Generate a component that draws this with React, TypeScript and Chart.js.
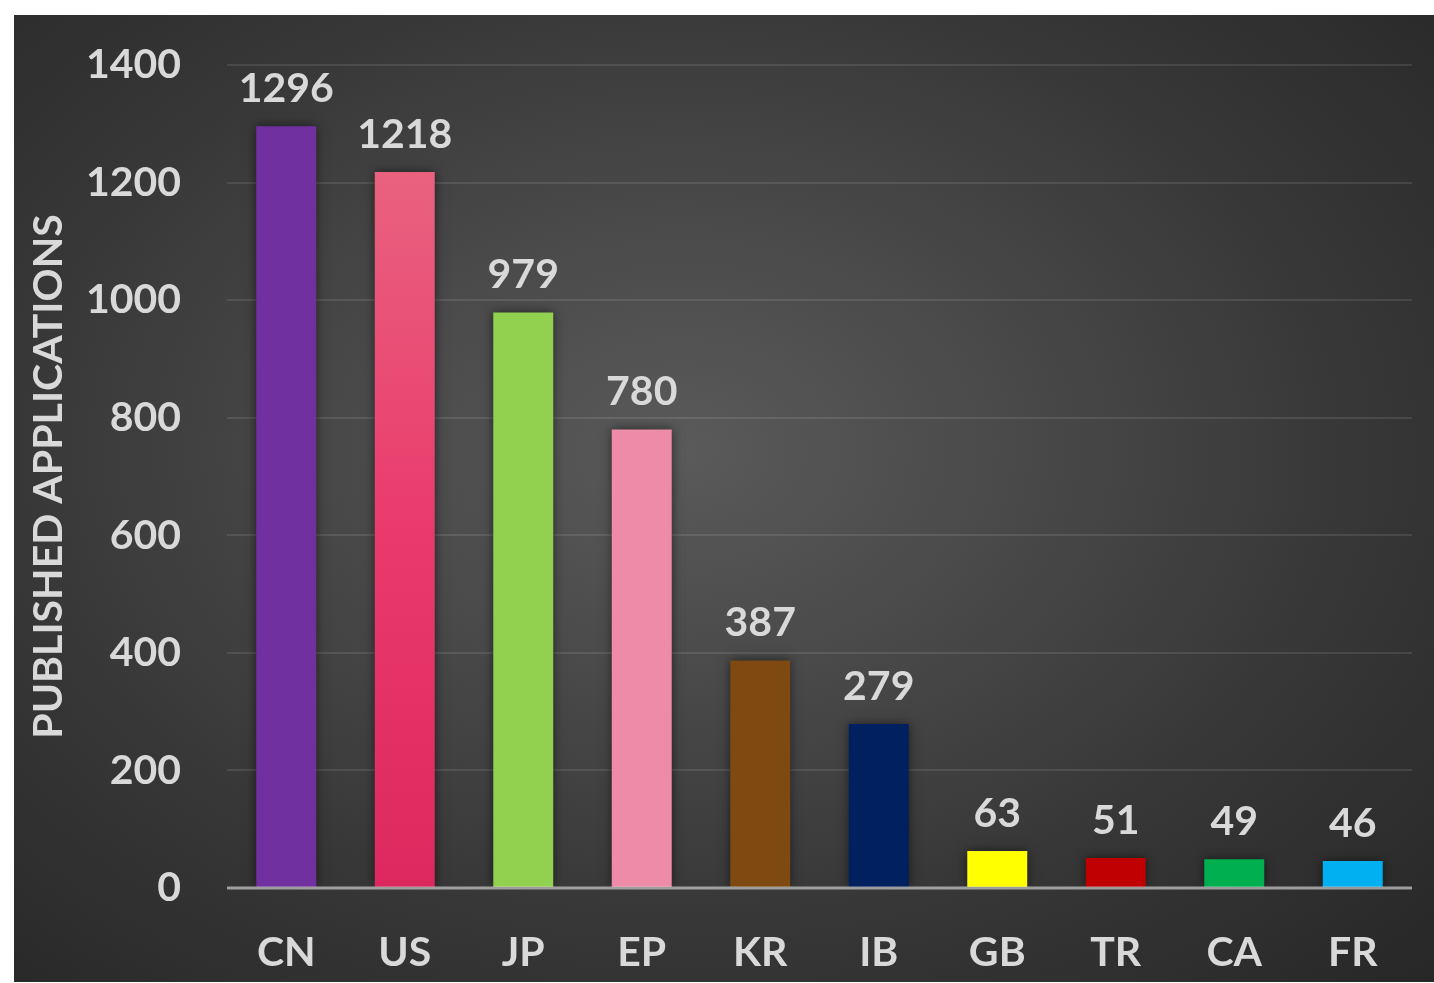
import React, { useEffect, useRef } from "react";
import { Chart, registerables } from "chart.js";

Chart.register(...registerables);

const categories = ["CN", "US", "JP", "EP", "KR", "IB", "GB", "TR", "CA", "FR"];
const values = [1296, 1218, 979, 780, 387, 279, 63, 51, 49, 46];
const barColors = ["#7030A0", "US_GRADIENT", "#92D050", "#EE8BA9", "#7F4912", "#002060", "#FFFF00", "#C00000", "#00B050", "#00B0F0"];
const yTicks = [0, 200, 400, 600, 800, 1000, 1200, 1400];
const yTitle = "PUBLISHED APPLICATIONS";

const FONT = "Lato";
const TEXT = "#D9D9D9";

const barDeco = {
  id: "barDeco",
  beforeDatasetsDraw(chart: any) {
    const ctx = chart.ctx;
    ctx.save();
    ctx.shadowColor = "rgba(0,0,0,0.55)";
    ctx.shadowBlur = 10;
    ctx.shadowOffsetX = 0;
    ctx.shadowOffsetY = 0;
  },
  afterDatasetsDraw(chart: any) {
    const ctx = chart.ctx;
    ctx.restore();
    const area = chart.chartArea;
    const y0 = chart.scales.y.getPixelForValue(0);
    ctx.save();
    ctx.strokeStyle = "rgba(205,205,205,0.7)";
    ctx.lineWidth = 3;
    ctx.beginPath();
    ctx.moveTo(area.left, y0);
    ctx.lineTo(area.right, y0);
    ctx.stroke();
    const meta = chart.getDatasetMeta(0);
    ctx.fillStyle = TEXT;
    ctx.font = `bold 41px ${FONT}`;
    ctx.textAlign = "center";
    ctx.textBaseline = "alphabetic";
    meta.data.forEach((bar: any, i: number) => {
      ctx.fillText(String(values[i]), bar.x, bar.y - 24);
    });
    ctx.restore();
  },
};

export default function App() {
  const ref = useRef<HTMLCanvasElement | null>(null);
  useEffect(() => {
    if (!ref.current) return;
    const chart = new Chart(ref.current, {
      type: "bar",
      data: {
        labels: categories,
        datasets: [
          {
            data: values,
            backgroundColor: (c: any) => {
              const col = barColors[c.dataIndex];
              if (col !== "US_GRADIENT") return col;
              const ch = c.chart;
              const area = ch.chartArea;
              if (!area) return "#E44070";
              const g = ch.ctx.createLinearGradient(0, ch.scales.y.getPixelForValue(values[1]), 0, area.bottom);
              g.addColorStop(0, "#E9627F");
              g.addColorStop(0.5, "#EA3A6C");
              g.addColorStop(1, "#DC285E");
              return g;
            },
            borderWidth: 0,
            barPercentage: 0.506,
            categoryPercentage: 1,
          },
        ],
      },
      options: {
        responsive: false,
        animation: false,
        layout: { padding: { left: 0, right: 22, top: 50, bottom: 0 } },
        plugins: { legend: { display: false }, tooltip: { enabled: false } },
        scales: {
          x: {
            grid: { display: false, drawTicks: false },
            border: { display: false },
            ticks: { color: TEXT, font: { family: FONT, size: 41, weight: "bold" }, padding: 40 },
            afterFit: (s: any) => {
              s.height = 94;
            },
          },
          y: {
            min: 0,
            max: 1400,
            afterBuildTicks: (s: any) => {
              s.ticks = yTicks.map((v) => ({ value: v }));
            },
            grid: {
              drawTicks: false,
              color: (c: any) => (c.tick && c.tick.value === 0 ? "rgba(0,0,0,0)" : "rgba(255,255,255,0.1)"),
              lineWidth: 2,
            },
            border: { display: false },
            ticks: {
              color: TEXT,
              font: { family: FONT, size: 41, weight: "bold" },
              padding: 46,
              callback: (v: any) => String(v),
            },
            title: {
              display: true,
              text: yTitle,
              color: TEXT,
              font: { family: FONT, size: 41, weight: "bold" },
              padding: { top: 10, bottom: 0 },
            },
            afterFit: (s: any) => {
              s.width = 213;
              s.paddingTop = 0;
              s.paddingBottom = 0;
            },
          },
        },
      },
      plugins: [barDeco],
    } as any);
    return () => chart.destroy();
  }, []);
  return (
    <div
      style={{
        position: "absolute",
        left: 14,
        top: 15,
        width: 1420,
        height: 967,
        background:
          "radial-gradient(ellipse farthest-corner at 47% 45%, #5a5a5a 0%, #4a4a4a 30%, #363636 65%, #272727 100%)",
      }}
    >
      <canvas ref={ref} width={1420} height={967} style={{ display: "block" }} />
    </div>
  );
}
